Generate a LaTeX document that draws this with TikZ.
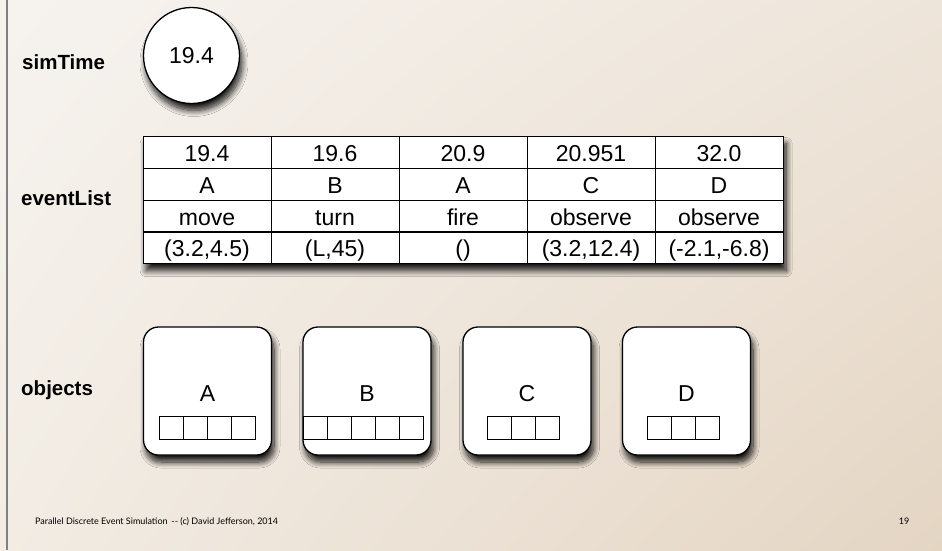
\documentclass[tikz,border=0pt]{standalone}
\usepackage{fontspec}
\setmainfont[Ligatures=NoCommon]{Liberation Sans}
\newfontfamily\footfont{Lato}
\usetikzlibrary{shadows.blur,shadings}
\definecolor{bgTL}{RGB}{246,243,239}
\definecolor{bgTR}{RGB}{238,229,218}
\definecolor{bgBL}{RGB}{242,236,228}
\definecolor{bgBR}{RGB}{228,213,195}
\definecolor{edgegray}{RGB}{128,128,128}
\tikzset{
  shd/.style={blur shadow={shadow xshift=2.5pt, shadow yshift=-7pt, shadow blur radius=6pt, shadow opacity=90, shadow blur steps=12}},
  lbl/.style={font=\fontsize{20.5}{22}\selectfont\bfseries, anchor=base west, inner sep=0},
  cellbox/.style={draw, line width=1.3pt, fill=white, inner sep=0, minimum width=128pt, minimum height=31.75pt, anchor=north west},
  celltext/.style={font=\fontsize{23}{25}\selectfont, anchor=base, inner sep=0},
  objbox/.style={draw, line width=1.3pt, fill=white, rounded corners=15pt, minimum width=128pt, minimum height=128pt, inner sep=0, shd},
  objtext/.style={font=\fontsize{23}{25}\selectfont, anchor=base, inner sep=0},
  slot/.style={draw, line width=1.1pt, fill=white, minimum width=24pt, minimum height=23pt, inner sep=0, anchor=north west},
  foot/.style={font=\footfont\fontsize{9}{10}\selectfont, inner sep=0}
}
\begin{document}
\begin{tikzpicture}[x=1pt,y=-1pt]
\useasboundingbox (0,0) rectangle (942,550);
\shade[upper left=bgTL, upper right=bgTR, lower left=bgBL, lower right=bgBR] (0,0) rectangle (942,550);
\draw[edgegray, line width=1.8pt] (7,0) -- (7,550);

% simTime
\node[lbl] (lsim) at (22,69) {simTime};
\node[circle, draw, line width=1.3pt, fill=white, minimum size=96pt, inner sep=0, shd,
      font=\fontsize{23}{25}\selectfont] (clock) at (191.5,55.5) {19.4};

% eventList
\node[lbl] (levent) at (21,205) {eventList};
\node[draw, line width=1.3pt, fill=white, inner sep=0, minimum width=640pt, minimum height=127pt,
      anchor=north west, shd] (tbl) at (143,136) {};
\foreach \tm/\ob/\ac/\ar [count=\i from 0] in
  {19.4/A/move/{(3.2,4.5)}, 19.6/B/turn/{(L,45)}, 20.9/A/fire/{()},
   20.951/C/observe/{(3.2,12.4)}, 32.0/D/observe/{(-2.1,-6.8)}}{
  \node[cellbox] (c\i r0) at ({143+128*\i},136) {};
  \node[cellbox] (c\i r1) at ({143+128*\i},167.75) {};
  \node[cellbox] (c\i r2) at ({143+128*\i},199.5) {};
  \node[cellbox] (c\i r3) at ({143+128*\i},231.25) {};
  \node[celltext] (t\i r0) at ({207+128*\i},161.5) {\tm};
  \node[celltext] (t\i r1) at ({207+128*\i},193.3) {\ob};
  \node[celltext] (t\i r2) at ({207+128*\i},225) {\ac};
  \node[celltext] (t\i r3) at ({207+128*\i},256.5) {\ar};
}

% objects
\node[lbl] (lobj) at (21,395.7) {objects};
\foreach \nm/\cx/\sx/\ns in {A/207.5/159/4, B/367/303/5, C/527/487/3, D/686.5/647/3}{
  \node[objbox] (obj\nm) at (\cx,391) {};
  \node[objtext] (name\nm) at (\cx,401) {\nm};
  \foreach \k in {1,...,\ns}{
    \node[slot] (s\nm\k) at ({\sx+24*(\k-1)},416) {};
  }
}

% footer
\node[foot, anchor=base west] (footer) at (35,524) {Parallel Discrete Event Simulation \,-- (c) David Jefferson, 2014};
\node[foot, anchor=base] (pagenum) at (904,524) {19};
\end{tikzpicture}
\end{document}
